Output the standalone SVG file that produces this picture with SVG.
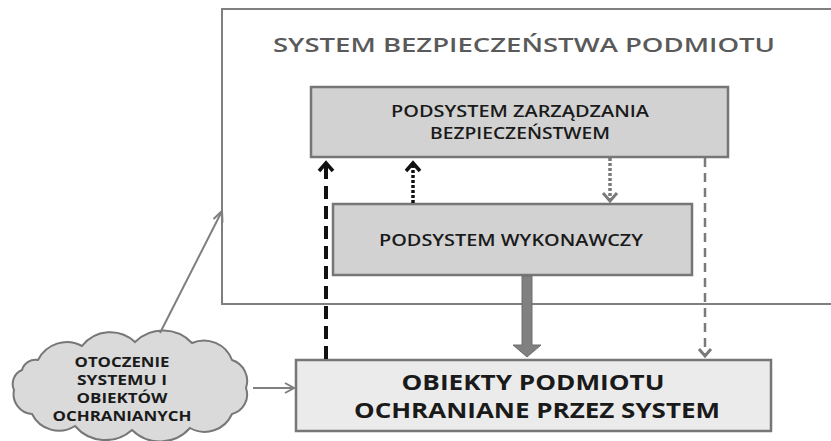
<svg xmlns="http://www.w3.org/2000/svg" width="831" height="441" viewBox="0 0 831 441">
<style>
.box{stroke:#767676;stroke-width:2.5}
.t{font-family:"Open Sans","Liberation Sans",sans-serif;fill:#1a1a1a;text-anchor:middle}
.c{font-size:14px;font-weight:700}
.chevB{fill:none;stroke:#111;stroke-width:3.5;stroke-linejoin:miter}
.chevG{fill:none;stroke:#7a7a7a;stroke-width:3}
</style>
<rect width="831" height="441" fill="#fff"/>
<g id="system">
<rect x="222" y="9" width="700" height="295" fill="#fff" stroke="#7f7f7f" stroke-width="2"/>
<text class="t" x="524" y="52" font-size="20" font-weight="600" style="fill:#5a5a5a" textLength="502" lengthAdjust="spacingAndGlyphs">SYSTEM BEZPIECZEŃSTWA PODMIOTU</text>
</g>
<g id="zarzadzanie">
<rect class="box" x="311" y="87" width="417" height="70" fill="#d2d2d2"/>
<text class="t" x="520" y="117" font-size="15.5" font-weight="600" textLength="258" lengthAdjust="spacingAndGlyphs">PODSYSTEM ZARZĄDZANIA</text>
<text class="t" x="520" y="139" font-size="15.5" font-weight="600" textLength="180" lengthAdjust="spacingAndGlyphs">BEZPIECZEŃSTWEM</text>
</g>
<g id="wykonawczy">
<rect class="box" x="333" y="204" width="359" height="71" fill="#d2d2d2"/>
<text class="t" x="511" y="246" font-size="15.5" font-weight="600" textLength="264" lengthAdjust="spacingAndGlyphs">PODSYSTEM WYKONAWCZY</text>
</g>
<g id="obiekty">
<rect class="box" x="296" y="360" width="475" height="71" fill="#ebebeb"/>
<text class="t" x="533" y="390" font-size="22" font-weight="700" textLength="263" lengthAdjust="spacingAndGlyphs">OBIEKTY PODMIOTU</text>
<text class="t" x="537" y="418" font-size="22" font-weight="700" textLength="366" lengthAdjust="spacingAndGlyphs">OCHRANIANE PRZEZ SYSTEM</text>
</g>
<g id="otoczenie">
<path d="M38,360 A32,32 0 0 1 82,346 A36,36 0 0 1 135,342 A40,40 0 0 1 192,343 A30,30 0 0 1 232,360 A22,22 0 0 1 246,388 A20,20 0 0 1 232,414 A30,30 0 0 1 190,428 A40,40 0 0 1 132,430 A40,40 0 0 1 75,426 A30,30 0 0 1 32,414 A20,20 0 0 1 14,390 A15,15 0 0 1 22,370 A14,14 0 0 1 38,360 Z" fill="#dadada" stroke="#777" stroke-width="2"/>
<text class="t c" x="122" y="367" textLength="95" lengthAdjust="spacingAndGlyphs">OTOCZENIE</text>
<text class="t c" x="122" y="385" textLength="90" lengthAdjust="spacingAndGlyphs">SYSTEMU I</text>
<text class="t c" x="122" y="403" textLength="91" lengthAdjust="spacingAndGlyphs">OBIEKTÓW</text>
<text class="t c" x="122" y="421" textLength="139" lengthAdjust="spacingAndGlyphs">OCHRANIANYCH</text>
</g>
<g id="connectors">
<line x1="160" y1="333" x2="221" y2="213" stroke="#7f7f7f" stroke-width="2"/>
<polyline points="213.5,219 222,211 222.5,222.5" fill="none" stroke="#7f7f7f" stroke-width="2"/>
<line x1="253" y1="388" x2="294" y2="388" stroke="#7f7f7f" stroke-width="2"/>
<polyline points="285,383 294,388 285,393" fill="none" stroke="#7f7f7f" stroke-width="2"/>
<line x1="326" y1="359" x2="326" y2="162" stroke="#111" stroke-width="4" stroke-dasharray="13,7"/>
<polyline class="chevB" points="319,171 326,163 333,171"/>
<line x1="413" y1="203" x2="413" y2="163" stroke="#111" stroke-width="3.5" stroke-dasharray="3,2"/>
<polyline class="chevB" points="406,171 413,163 420,171"/>
<line x1="610" y1="158" x2="610" y2="199" stroke="#7a7a7a" stroke-width="3.5" stroke-dasharray="3,2"/>
<polyline class="chevG" points="603,193 610,201 617,193"/>
<line x1="705" y1="158" x2="705" y2="354" stroke="#7a7a7a" stroke-width="2.5" stroke-dasharray="9,6"/>
<polyline class="chevG" points="699,349 705,356 711,349"/>
<polygon points="522,276 532,276 532,345 541,345 527,357 513,345 522,345" fill="#808080" stroke="#6e6e6e" stroke-width="1"/>
</g>
</svg>
